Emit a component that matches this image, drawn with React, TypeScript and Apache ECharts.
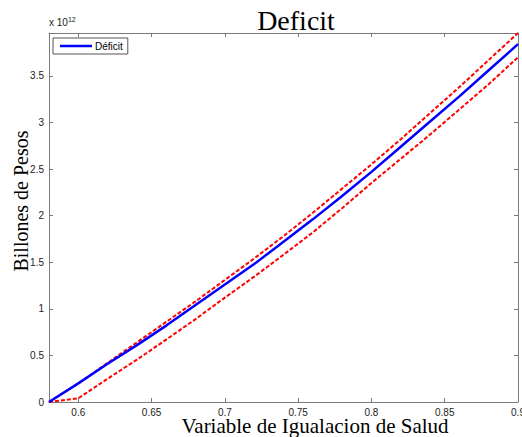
import React, { useEffect, useRef } from "react";
import * as echarts from "echarts";

const xValues = [0.58, 0.6, 0.62, 0.64, 0.66, 0.68, 0.7, 0.72, 0.74, 0.76, 0.78, 0.8, 0.82, 0.84, 0.86, 0.88, 0.9];
const deficit = [0, 0.2, 0.41, 0.61, 0.82, 1.04, 1.26, 1.48, 1.72, 1.96, 2.21, 2.47, 2.74, 3.01, 3.28, 3.56, 3.84];
const upperBound = [0, 0.2, 0.42, 0.64, 0.86, 1.08, 1.31, 1.54, 1.78, 2.03, 2.29, 2.55, 2.82, 3.1, 3.38, 3.67, 3.96];
const lowerBound = [0, 0.04, 0.25, 0.455, 0.67, 0.89, 1.12, 1.345, 1.58, 1.82, 2.08, 2.35, 2.61, 2.87, 3.14, 3.41, 3.7];
const SCALE = 1e12;
const xTitle = "Variable de Igualacion de Salud";
const yTitle = "Billones de Pesos";

const pairs = (ys: number[]) => xValues.map((x, i) => [x, ys[i] * SCALE]);

export default function App() {
  const ref = useRef<HTMLDivElement>(null);
  useEffect(() => {
    document.body.style.margin = "0";
    const chart = echarts.init(ref.current!, undefined, { renderer: "svg" });
    const axisColor = "#7a7a7a";
    const xFmt = (v: number) => {
      const k = v / 0.05;
      if (Math.abs(k - Math.round(k)) > 1e-6) return "";
      return String(+v.toFixed(2));
    };
    const yFmt = (v: number) => {
      const k = v / (0.5 * SCALE);
      if (Math.abs(k - Math.round(k)) > 1e-6) return "";
      return String(+(v / SCALE).toFixed(2));
    };
    const xCommon = {
      type: "value",
      min: 0.58,
      max: 0.9,
      axisLine: { show: true, onZero: false, lineStyle: { color: axisColor, width: 1 } },
      axisTick: { show: true, inside: true, length: 4, lineStyle: { color: axisColor } },
      splitLine: { show: false },
    };
    const yCommon = {
      type: "value",
      min: 0,
      max: 3.96 * SCALE,
      interval: 0.5 * SCALE,
      axisLine: { show: true, onZero: false, lineStyle: { color: axisColor, width: 1 } },
      axisTick: { show: true, inside: true, length: 4, lineStyle: { color: axisColor } },
      splitLine: { show: false },
    };
    chart.setOption({
      animation: false,
      backgroundColor: "#ffffff",
      grid: { left: 49, top: 33, right: 4, bottom: 35, containLabel: false, outerBoundsMode: "none" },
      title: {
        text: "Deficit",
        left: 291,
        top: 1,
        textAlign: "center",
        textStyle: { fontFamily: "Liberation Serif", fontSize: 28, fontWeight: "normal", color: "#000" },
      },
      legend: {
        data: ["Déficit"],
        left: 53,
        top: 38,
        orient: "vertical",
        icon: "rect",
        backgroundColor: "#fff",
        borderColor: "#555",
        borderWidth: 1,
        borderRadius: 0,
        padding: [3, 5, 3, 7],
        itemWidth: 32,
        itemHeight: 2.5,
        textStyle: { fontFamily: "Liberation Sans", fontSize: 10, color: "#000", padding: [0, 0, 0, -2] },
      },
      xAxis: [
        {
          ...xCommon,
          position: "bottom",
          axisLabel: { show: true, formatter: xFmt, fontFamily: "Liberation Sans", fontSize: 10, color: "#222", margin: 5 },
        },
        { ...xCommon, position: "top", axisLabel: { show: false, formatter: xFmt } },
      ],
      yAxis: [
        {
          ...yCommon,
          position: "left",
          axisLabel: { show: true, formatter: yFmt, fontFamily: "Liberation Sans", fontSize: 10, color: "#222", margin: 5 },
        },
        { ...yCommon, position: "right", axisLabel: { show: false } },
      ],
      graphic: [
        {
          type: "text",
          left: 49,
          top: 16,
          style: {
            text: "x 10{s|12}",
            fontFamily: "Liberation Sans",
            fontSize: 10,
            fill: "#222",
            rich: { s: { fontSize: 7, verticalAlign: "top", padding: [0, 0, 6, 0], fontFamily: "Liberation Sans", fill: "#222" } },
          },
        },
        {
          type: "text",
          x: 315,
          y: 426,
          style: {
            text: xTitle,
            fontFamily: "Liberation Serif",
            fontSize: 21,
            fill: "#000",
            align: "center",
            verticalAlign: "middle",
          },
        },
        {
          type: "text",
          x: 21,
          y: 201,
          rotation: Math.PI / 2,
          style: {
            text: yTitle,
            fontFamily: "Liberation Serif",
            fontSize: 20,
            fill: "#000",
            align: "center",
            verticalAlign: "middle",
          },
        },
      ],
      series: [
        {
          name: "Upper",
          type: "line",
          data: pairs(upperBound),
          symbol: "none",
          lineStyle: { color: "#ff0000", width: 2, type: [4, 2] },
          itemStyle: { color: "#ff0000" },
          z: 2,
        },
        {
          name: "Lower",
          type: "line",
          data: pairs(lowerBound),
          symbol: "none",
          lineStyle: { color: "#ff0000", width: 2, type: [4, 2] },
          itemStyle: { color: "#ff0000" },
          z: 2,
        },
        {
          name: "Déficit",
          type: "line",
          data: pairs(deficit),
          symbol: "none",
          lineStyle: { color: "#0000ff", width: 2.5 },
          itemStyle: { color: "#0000ff" },
          z: 3,
        },
      ],
    });
    return () => chart.dispose();
  }, []);
  return <div ref={ref} style={{ width: 522, height: 437 }} />;
}
